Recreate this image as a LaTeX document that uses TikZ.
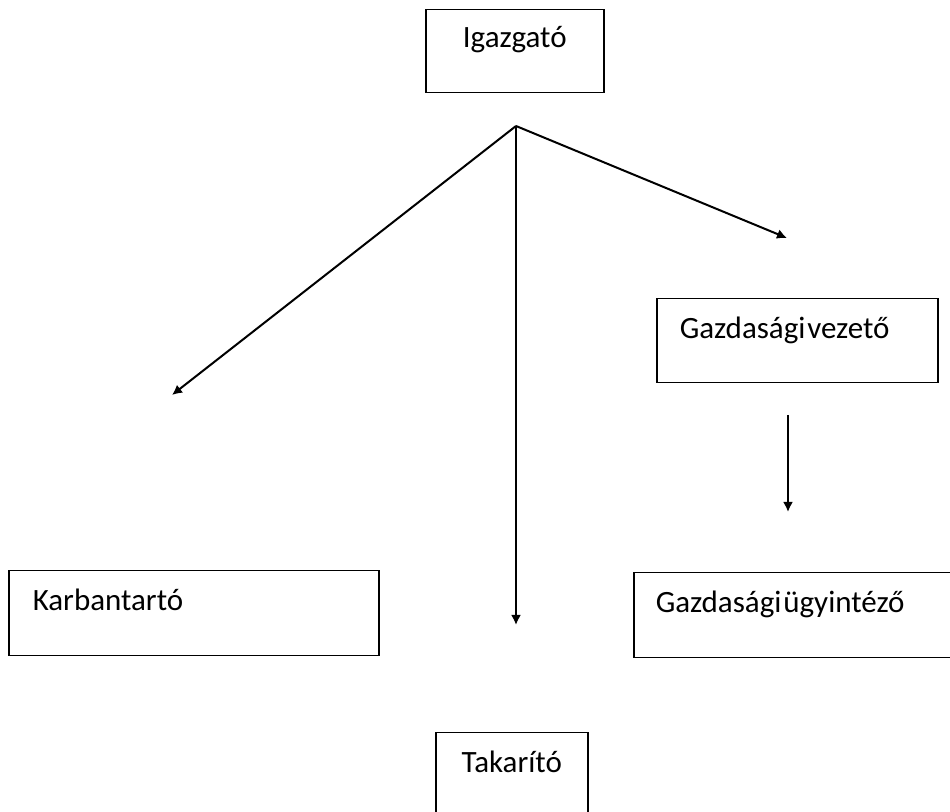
\documentclass[tikz,border=0pt]{standalone}
\usepackage{fontspec}
\setmainfont{Carlito}
\usepackage{tikz}
\usetikzlibrary{positioning}
\usetikzlibrary{arrows.meta}
\newcommand\boxfont{\fontsize{15.5}{18}\selectfont}
\newcommand\narrow{\hspace{0.06em}}
\tikzset{>={Latex[length=5pt,width=5pt]}}
\tikzstyle{post}=[
  draw,
  rectangle,
  line width=0.75pt,
  anchor=north west,
  inner ysep=0pt,
  text height=20pt,
  text depth=22.5pt,
  font=\boxfont
]
\tikzstyle{mid}=[post,inner xsep=0pt,align=center]
\tikzstyle{side}=[post,inner xsep=11.5pt,align=left]
\tikzstyle{link}=[->,line width=1pt]

\begin{document}
\begin{tikzpicture}[x=0.5pt,y=-0.5pt]
    \useasboundingbox (0,0) rectangle (950,812);

    \node[mid,text width=89pt,text height=19pt] (igazgato) at (425,9) {Igazgató};
    \node[side,text width=117.5pt,text depth=22pt] (vezeto) at (656,298) {Gazdasági\narrow vezető};
    \node[side,inner xsep=12pt,text width=161pt] (karban) at (8,570) {Karbantartó};
    \node[side,inner xsep=11pt,text width=138pt] (ugyintezo) at (633,572) {Gazdasági\narrow ügyintéző};
    \node[mid,text width=76pt,text depth=21.5pt] (takarito) at (435,732) {Takarító};

    % the arrows stop short of the boxes
    \coordinate (split) at (516,126);
    \coordinate (toKarban) at (172,395);
    \coordinate (toTakarito) at (516,625);
    \coordinate (toVezeto) at (787,238);
    \coordinate (fromVezeto) at (788,415);
    \coordinate (toUgyintezo) at (788,512);

    \draw[link] (split) -- (toKarban);
    \draw[link] (split) -- (toTakarito);
    \draw[link] (split) -- (toVezeto);
    \draw[link] (fromVezeto) -- (toUgyintezo);
\end{tikzpicture}
\end{document}
